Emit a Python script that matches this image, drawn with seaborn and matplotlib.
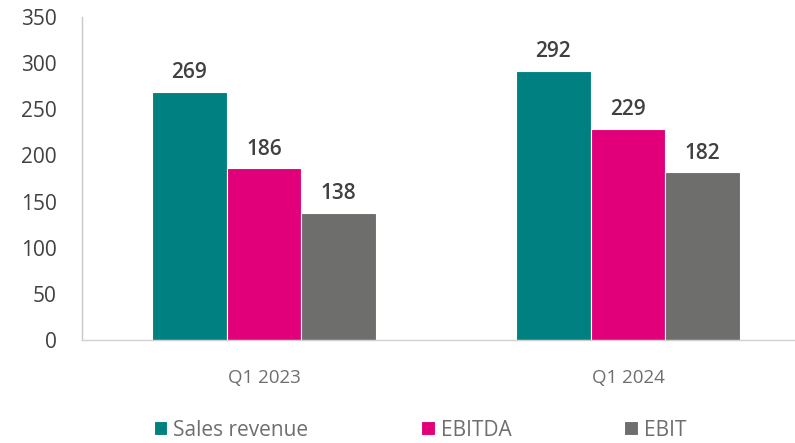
import matplotlib
matplotlib.use("Agg")
import matplotlib.pyplot as plt
import seaborn as sns
import pandas as pd

# Valores
quarters = ["Q1 2023", "Q1 2024"]
sales_revenue = [269, 292]
ebitda = [186, 229]
ebit = [138, 182]
series_names = ["Sales revenue", "EBITDA", "EBIT"]
colors = ["#008080", "#E2007A", "#6E6E6D"]

df = pd.DataFrame({
    "quarter": quarters * 3,
    "metric": [series_names[0]] * 2 + [series_names[1]] * 2 + [series_names[2]] * 2,
    "value": sales_revenue + ebitda + ebit,
})

sns.set_style("white")
plt.rcParams["font.family"] = ["Open Sans", "DejaVu Sans"]

fig = plt.figure(figsize=(7.95, 4.43), dpi=100)
ax = fig.add_axes([82 / 795, 103 / 443, 713 / 795, 323 / 443])

sns.barplot(data=df, x="quarter", y="value", hue="metric", order=quarters,
            hue_order=series_names, palette=colors, width=0.615, saturation=1,
            edgecolor="white", linewidth=0.8, ax=ax, legend=True)

for container in ax.containers:
    ax.bar_label(container, fmt="%d", padding=6, fontsize=15,
                 fontweight="semibold", color="#404040")

ax.set_ylim(0, 350)
ax.set_yticks(range(0, 351, 50))
ax.set_xlim(-0.5, -0.5 + 713 / 364)
ax.set_xlabel("")
ax.set_ylabel("")
ax.tick_params(axis="y", length=0, pad=18, labelsize=15, labelcolor="#404040")
ax.tick_params(axis="x", length=0, pad=21, labelsize=13.5, labelcolor="#6E6E6E")

sns.despine(ax=ax, top=True, right=True)
ax.spines["left"].set_color("#C8C8C8")
ax.spines["bottom"].set_color("#D0D0D0")
ax.spines["left"].set_linewidth(1)
ax.spines["bottom"].set_linewidth(1)

handles, labels = ax.get_legend_handles_labels()
ax.legend_.remove()
fig.legend(handles, labels, loc="center", bbox_to_anchor=(420 / 795, 13 / 443),
           ncol=3, frameon=False, fontsize=15, labelcolor="#6E6E6E",
           handlelength=0.65, handleheight=0.65, handletextpad=0.3,
           columnspacing=5.4)

fig.savefig("out.png", dpi=100)
